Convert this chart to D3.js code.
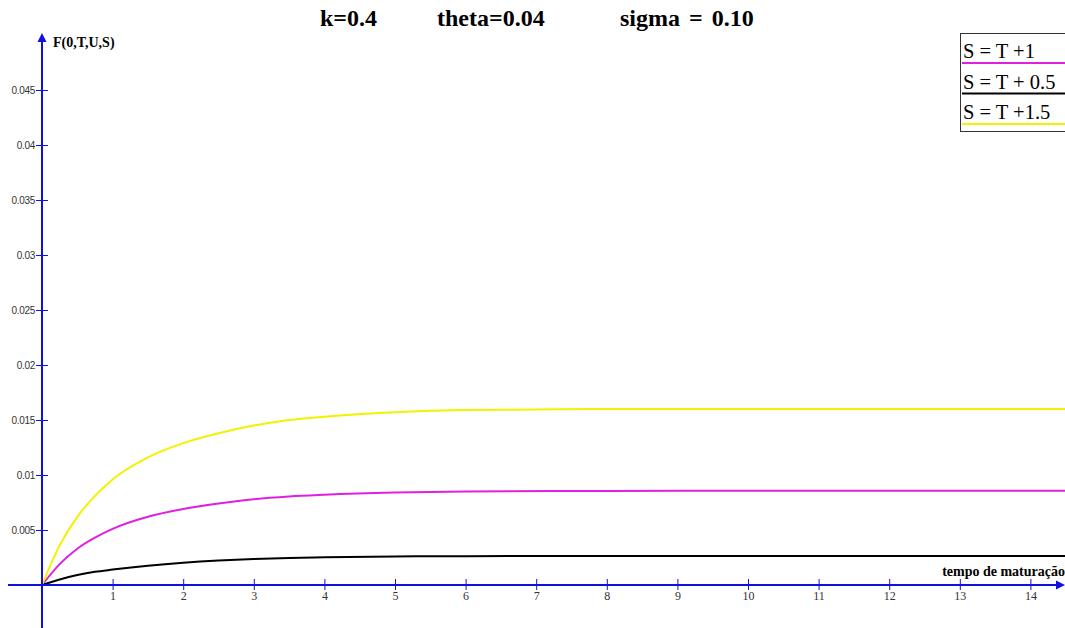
<!DOCTYPE html>
<html>
<head>
<meta charset="utf-8">
<script src="https://cdn.jsdelivr.net/npm/d3@7"></script>
<style>
  html, body { margin: 0; padding: 0; background: #fff; }
  svg { display: block; }
</style>
</head>
<body>
<svg id="chart" width="1065" height="628"></svg>
<script>
// Maturity grid (years)
const maturities = [0, 0.25, 0.5, 0.75, 1, 1.5, 2, 2.5, 3, 3.5, 4, 5, 6, 8, 10, 12, 14.5];
// F(0,T,U,S) for S = T + 1
const seriesS1 = [0, 0.0019, 0.0033, 0.0043, 0.0051, 0.0062, 0.0069, 0.0074, 0.0078, 0.00805, 0.0082, 0.0084, 0.0085, 0.00855, 0.00857, 0.00857, 0.00857];
// F(0,T,U,S) for S = T + 0.5
const seriesS05 = [0, 0.0005, 0.0009, 0.0012, 0.0014, 0.00175, 0.00202, 0.00222, 0.00236, 0.00246, 0.00252, 0.00259, 0.00262, 0.00264, 0.00264, 0.00264, 0.00264];
// F(0,T,U,S) for S = T + 1.5
const seriesS15 = [0, 0.0036, 0.0062, 0.0081, 0.0096, 0.0116, 0.0129, 0.0138, 0.0145, 0.0150, 0.0153, 0.0157, 0.0159, 0.0160, 0.0160, 0.0160, 0.0160];

const legendLabels = ["S = T +1", "S = T + 0.5", "S = T +1.5"];
const seriesColors = ["#e020e0", "#000000", "#f2f200"];
const xTicks = [1, 2, 3, 4, 5, 6, 7, 8, 9, 10, 11, 12, 13, 14];
const yTicks = [0.005, 0.01, 0.015, 0.02, 0.025, 0.03, 0.035, 0.04, 0.045];
const titleParts = ["k=0.4", "theta=0.04", "sigma = 0.10"];

const svg = d3.select("#chart");
const axisBlue = "#1010e0";

const x = d3.scaleLinear().domain([0, 14.5]).range([42, 42 + 14.5 * 70.6]);
const y = d3.scaleLinear().domain([0, 0.045]).range([585, 90]);

// Title
const titleX = [320, 437, 620];
svg.selectAll("text.title").data(titleParts).join("text")
  .attr("class", "title")
  .attr("x", (d, i) => titleX[i])
  .attr("y", 26)
  .attr("font-family", "Liberation Serif, serif")
  .attr("font-weight", "bold")
  .attr("font-size", 24)
  .attr("word-spacing", 3)
  .attr("fill", "#000")
  .text(d => d);

// Curves
const line = d3.line()
  .x((d, i) => x(maturities[i]))
  .y(d => y(d))
  .curve(d3.curveMonotoneX);

const allSeries = [seriesS1, seriesS05, seriesS15];
svg.selectAll("path.curve").data(allSeries).join("path")
  .attr("class", "curve")
  .attr("d", d => line(d))
  .attr("fill", "none")
  .attr("stroke", (d, i) => seriesColors[i])
  .attr("stroke-width", 2);

// X axis
const xAxis = d3.axisBottom(x).tickValues(xTicks).tickSize(6).tickFormat(d3.format("d"));
const gx = svg.append("g").attr("transform", "translate(0,585)").call(xAxis);
gx.select(".domain").remove();
gx.selectAll(".tick line").attr("y1", -6).attr("y2", 5).attr("stroke", axisBlue).attr("stroke-width", 1);
gx.selectAll(".tick text")
  .attr("y", 15).attr("dy", 0)
  .attr("font-family", "Liberation Serif, serif")
  .attr("font-size", 12)
  .attr("fill", "#333");
svg.append("line").attr("x1", 8).attr("x2", 1058).attr("y1", 585).attr("y2", 585)
  .attr("stroke", axisBlue).attr("stroke-width", 2);
svg.append("path").attr("d", "M1065,585 L1056,580.5 L1056,589.5 Z").attr("fill", axisBlue);

// Y axis
const yAxis = d3.axisLeft(y).tickValues(yTicks).tickSize(6).tickFormat(d => String(+d.toFixed(3)));
const gy = svg.append("g").attr("transform", "translate(42,0)").call(yAxis);
gy.select(".domain").remove();
gy.selectAll(".tick line").attr("x1", -6).attr("x2", 6).attr("stroke", axisBlue).attr("stroke-width", 1);
gy.selectAll(".tick text")
  .attr("x", -7).attr("dy", "0.35em")
  .attr("font-family", "Liberation Sans, sans-serif")
  .attr("font-size", 10)
  .attr("letter-spacing", -0.3)
  .attr("fill", "#333");
svg.append("line").attr("x1", 42).attr("x2", 42).attr("y1", 628).attr("y2", 42)
  .attr("stroke", axisBlue).attr("stroke-width", 2);
svg.append("path").attr("d", "M42,33 L37.5,42 L46.5,42 Z").attr("fill", axisBlue);

// Axis titles
svg.append("text").attr("x", 53).attr("y", 47)
  .attr("font-family", "Liberation Serif, serif").attr("font-weight", "bold")
  .attr("font-size", 14).attr("fill", "#000").text("F(0,T,U,S)");
svg.append("text").attr("x", 1065).attr("y", 576).attr("text-anchor", "end")
  .attr("font-family", "Liberation Serif, serif").attr("font-weight", "bold")
  .attr("font-size", 14).attr("fill", "#000").text("tempo de maturação");

// Legend
const legend = svg.append("g");
legend.append("rect").attr("x", 960.5).attr("y", 33.5).attr("width", 110).attr("height", 98)
  .attr("fill", "#fff").attr("stroke", "#333").attr("stroke-width", 1);
const rows = legend.selectAll("g.row").data(legendLabels).join("g").attr("class", "row")
  .attr("transform", (d, i) => `translate(0,${i * 30.5})`);
rows.append("text").attr("x", 963).attr("y", 58)
  .attr("font-family", "Liberation Serif, serif").attr("font-size", 20.5)
  .attr("fill", "#000").text(d => d);
rows.append("line").attr("x1", 962).attr("x2", 1065).attr("y1", 63).attr("y2", 63)
  .attr("stroke", (d, i) => seriesColors[i]).attr("stroke-width", 2);
</script>
</body>
</html>
